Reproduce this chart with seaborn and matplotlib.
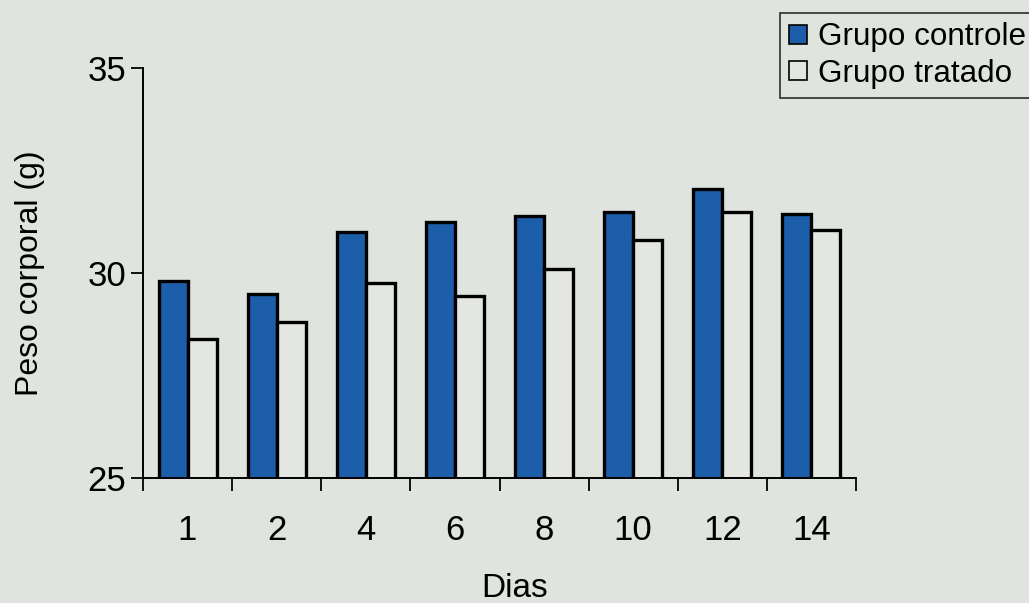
import matplotlib
matplotlib.use("Agg")
import matplotlib.pyplot as plt
from matplotlib.ticker import FixedLocator, NullFormatter
import seaborn as sns
import pandas as pd

# Body weight (g) per day for the two groups
dias = ["1", "2", "4", "6", "8", "10", "12", "14"]
grupo_controle = [29.8, 29.5, 31.0, 31.25, 31.4, 31.5, 32.05, 31.45]
grupo_tratado = [28.4, 28.8, 29.75, 29.45, 30.1, 30.8, 31.5, 31.05]
grupos = ["Grupo controle", "Grupo tratado"]
cores = ["#1d5eab", "#e4e6e2"]
yticks = [25, 30, 35]

df = pd.DataFrame({
    "Dias": dias * 2,
    "Peso": grupo_controle + grupo_tratado,
    "Grupo": [grupos[0]] * len(dias) + [grupos[1]] * len(dias),
})

sns.set_theme(style="white")
plt.rcParams["font.family"] = ["Liberation Sans", "DejaVu Sans"]
plt.rcParams["text.color"] = "black"

bg = "#e0e4de"
fig = plt.figure(figsize=(10.29, 6.03), dpi=100, facecolor=bg)
ax = fig.add_axes([143 / 1029, 1 - 478 / 603, (856 - 143) / 1029, (478 - 68) / 603])
ax.set_facecolor(bg)

sns.barplot(data=df, x="Dias", y="Peso", hue="Grupo", order=dias,
            hue_order=grupos, palette=cores, width=0.65, gap=0,
            edgecolor="black", linewidth=2.4, saturation=1, ax=ax)

ax.set_ylim(25, 35)
ax.set_xlim(-0.5, len(dias) - 0.5)
ax.set_yticks(yticks)
ax.set_yticklabels([str(v) for v in yticks])

# category separators as major ticks, day labels on minor ticks
ax.xaxis.set_major_locator(FixedLocator([i - 0.5 for i in range(len(dias) + 1)]))
ax.xaxis.set_major_formatter(NullFormatter())
ax.xaxis.set_minor_locator(FixedLocator(list(range(len(dias)))))
ax.set_xticklabels(dias, minor=True)

ax.tick_params(axis="x", which="major", direction="out", length=9, width=1.3,
               color="black", bottom=True)
ax.tick_params(axis="x", which="minor", length=0, pad=26, labelsize=25,
               labelcolor="black", bottom=True)
ax.tick_params(axis="y", direction="out", length=9, width=1.3, color="black",
               pad=3, labelsize=25, labelcolor="black", left=True)

for side in ["top", "right"]:
    ax.spines[side].set_visible(False)
for side in ["left", "bottom"]:
    ax.spines[side].set_color("black")
    ax.spines[side].set_linewidth(1.4)

ax.set_xlabel("Dias", fontsize=24, color="black")
ax.set_ylabel("Peso corporal (g)", fontsize=23, color="black")
ax.xaxis.set_label_coords((515 - 143) / 713, -0.232)
ax.yaxis.set_label_coords(-0.137, 0.5)

leg = ax.legend(loc="upper left", bbox_to_anchor=(780 / 1029, 1 - 13 / 603),
                bbox_transform=fig.transFigure, fontsize=22.6, frameon=True,
                fancybox=False, handlelength=0.55, handleheight=0.55,
                handletextpad=0.35, borderpad=0.3, labelspacing=0.2,
                borderaxespad=0)
leg.get_frame().set_edgecolor("black")
leg.get_frame().set_linewidth(1.2)
leg.get_frame().set_facecolor(bg)
for t in leg.get_texts():
    t.set_color("black")
for h in leg.legend_handles:
    h.set_edgecolor("black")
    h.set_linewidth(1.2)

fig.savefig("out.png", dpi=100, facecolor=bg)
